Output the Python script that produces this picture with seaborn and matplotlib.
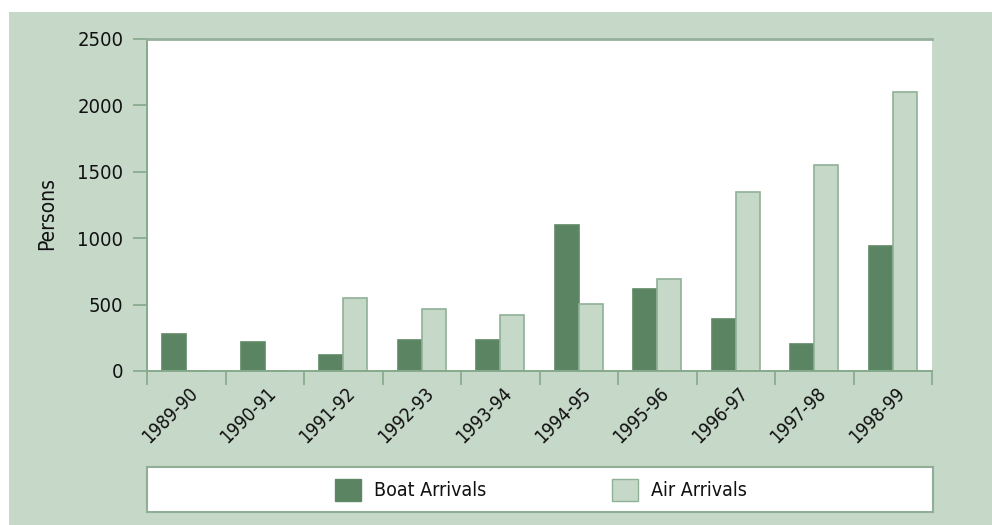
import matplotlib
matplotlib.use("Agg")
import matplotlib.pyplot as plt
from matplotlib.patches import Rectangle
from matplotlib.ticker import FixedLocator
from matplotlib.transforms import ScaledTranslation
import seaborn as sns
import pandas as pd
import numpy as np

years = ["1989-90", "1990-91", "1991-92", "1992-93", "1993-94",
         "1994-95", "1995-96", "1996-97", "1997-98", "1998-99"]
boat_arrivals = [280, 215, 120, 230, 230, 1100, 620, 390, 200, 945]
air_arrivals = [0, 0, 550, 465, 425, 505, 690, 1350, 1550, 2100]
series_names = ["Boat Arrivals", "Air Arrivals"]
y_ticks = [0, 500, 1000, 1500, 2000, 2500]

PANEL = "#c6d8c8"
DARK = "#5a8462"
LIGHT = "#c6d9c8"
LINE = "#86a98c"
TXT = "#111111"

sns.set_theme(style="white")
plt.rcParams["font.family"] = ["DejaVu Sans"]
plt.rcParams["font.stretch"] = "condensed"

df = pd.DataFrame({
    "Year": years * 2,
    "Persons": boat_arrivals + air_arrivals,
    "Type": [series_names[0]] * len(years) + [series_names[1]] * len(years),
})

W, H = 992, 525
fig = plt.figure(figsize=(W / 100, H / 100), dpi=100, facecolor=PANEL)
fig.patches.append(Rectangle((0, 1 - 12 / H), 1, 12 / H, transform=fig.transFigure,
                             facecolor="white", edgecolor="none", zorder=0))
fig.patches.append(Rectangle((0, 0), 9 / W, 1, transform=fig.transFigure,
                             facecolor="white", edgecolor="none", zorder=0))

ax = fig.add_axes([147 / W, 1 - 371 / H, (932 - 147) / W, (371 - 39) / H])
ax.set_facecolor("white")

sns.barplot(data=df, x="Year", y="Persons", hue="Type", order=years,
            hue_order=series_names, palette=[DARK, LIGHT], width=0.61,
            saturation=1, ax=ax, legend=False, linewidth=1.2)

for container, ec in zip(ax.containers, ["#5f8966", "#90b096"]):
    for p in container:
        p.set_edgecolor(ec)

ax.set_ylim(0, 2500)
ax.set_xlim(-0.5, len(years) - 0.5)
ax.set_yticks(y_ticks)
ax.set_yticklabels([str(v) for v in y_ticks], fontsize=14.5, color=TXT)
ax.tick_params(axis="y", which="major", direction="out", length=10, width=1.2,
               color=LINE, pad=7, left=True)

ax.set_xticks(range(len(years)))
ax.set_xticklabels(years, rotation=45, ha="right", rotation_mode="anchor",
                   fontsize=13.5, color=TXT)
ax.tick_params(axis="x", which="major", length=0, pad=9)
ax.xaxis.set_minor_locator(FixedLocator(np.arange(-0.5, len(years), 1.0)))
ax.tick_params(axis="x", which="minor", direction="out", length=10, width=1.2,
               color=LINE, bottom=True)
for lbl in ax.get_xticklabels():
    lbl.set_transform(lbl.get_transform() + ScaledTranslation(2 / 100, 0, fig.dpi_scale_trans))

ax.set_xlabel("")
ax.set_ylabel("Persons", fontsize=15, color=TXT)
ax.yaxis.set_label_coords(-0.115, 0.473)

for side in ["left", "bottom"]:
    ax.spines[side].set_color(LINE)
    ax.spines[side].set_linewidth(1.4)
ax.spines["top"].set_color("#95b09a")
ax.spines["top"].set_linewidth(2)
ax.spines["right"].set_visible(False)

fig.patches.append(Rectangle((147 / W, 1 - 512 / H), (933 - 147) / W, 45 / H,
                             transform=fig.transFigure, facecolor="white",
                             edgecolor="#8fae95", linewidth=1.5, zorder=1))
handles = [plt.Rectangle((0, 0), 1, 1, facecolor=DARK, edgecolor="#5f8966"),
           plt.Rectangle((0, 0), 1, 1, facecolor=LIGHT, edgecolor="#90b096")]
leg = fig.legend(handles, series_names, loc="center", ncol=2,
                 bbox_to_anchor=(541 / W, 1 - 490 / H), frameon=False,
                 fontsize=14, handlelength=1.34, handleheight=1.34,
                 handletextpad=0.67, columnspacing=6.5, labelcolor=TXT)
leg.set_zorder(2)

fig.savefig("out.png", dpi=100, facecolor=PANEL)
